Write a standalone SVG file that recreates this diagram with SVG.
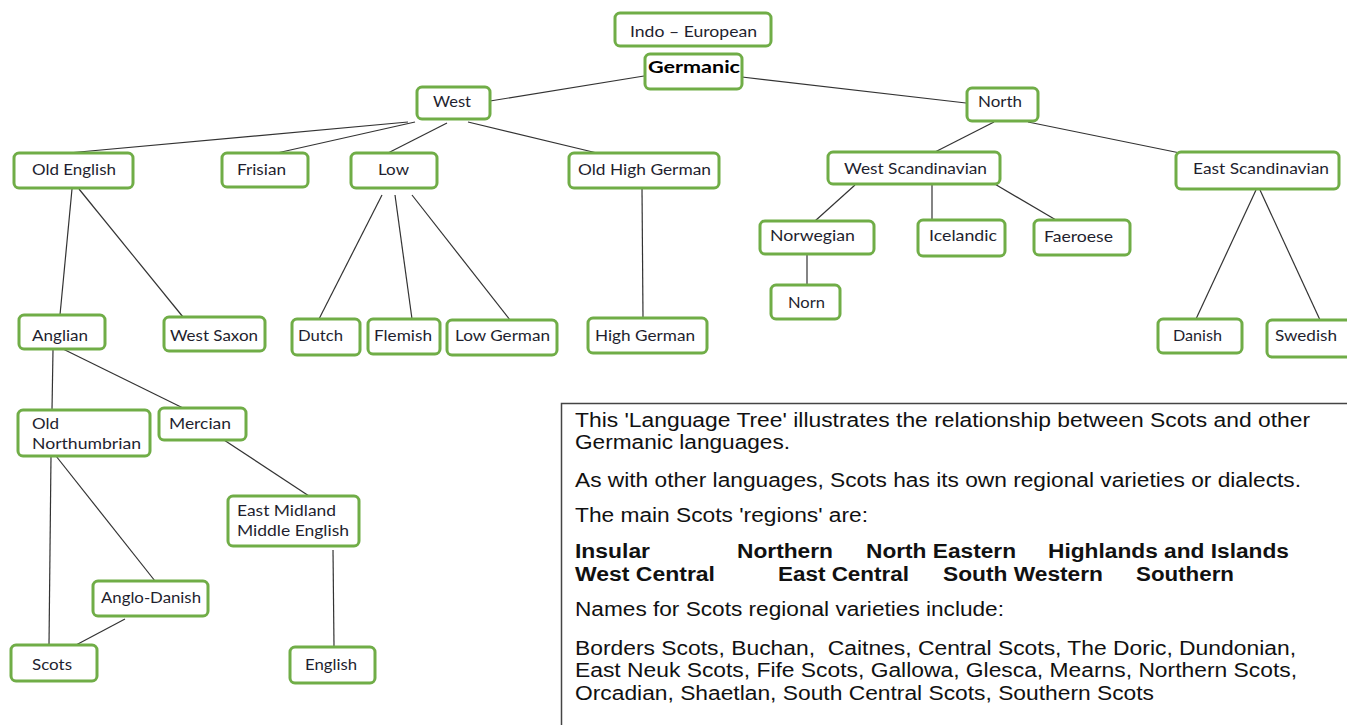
<svg xmlns="http://www.w3.org/2000/svg" width="1347" height="725" viewBox="0 0 1347 725">
<style>
.n rect{fill:#fff;stroke:#70ad47;stroke-width:3}
.n text{font-family:Lato,"Open Sans","Liberation Sans",sans-serif;font-size:15px;fill:#1f1f2f}
.c line{stroke:#333;stroke-width:1.2}
.p{font-family:"Liberation Sans",Arial,sans-serif;font-size:20px;fill:#111}
.b{font-weight:bold}
</style>
<rect width="1347" height="725" fill="#fff"/>
<g class="c" id="connectors">
<line x1="644" y1="76" x2="490" y2="101"/>
<line x1="742" y1="77" x2="966" y2="103"/>
<line x1="408" y1="122" x2="68" y2="153"/>
<line x1="415" y1="122" x2="277" y2="153"/>
<line x1="447" y1="123" x2="388" y2="153"/>
<line x1="468" y1="122" x2="597" y2="153"/>
<line x1="994" y1="122" x2="935" y2="152"/>
<line x1="1028" y1="122" x2="1180" y2="153"/>
<line x1="72" y1="189" x2="60" y2="315"/>
<line x1="79" y1="189" x2="183" y2="317"/>
<line x1="382" y1="195" x2="319" y2="319"/>
<line x1="395" y1="195" x2="412" y2="319"/>
<line x1="412" y1="195" x2="510" y2="320"/>
<line x1="642" y1="188" x2="643" y2="318"/>
<line x1="855" y1="185" x2="815" y2="221"/>
<line x1="932" y1="185" x2="932" y2="220"/>
<line x1="993" y1="183" x2="1056" y2="220"/>
<line x1="807" y1="255" x2="807" y2="285"/>
<line x1="1256" y1="190" x2="1196" y2="319"/>
<line x1="1260" y1="190" x2="1320" y2="320"/>
<line x1="53" y1="350" x2="52" y2="410"/>
<line x1="63" y1="349" x2="183" y2="408"/>
<line x1="224" y1="440" x2="309" y2="496"/>
<line x1="51" y1="456" x2="49" y2="645"/>
<line x1="56" y1="456" x2="155" y2="581"/>
<line x1="125" y1="619" x2="76" y2="645"/>
<line x1="333" y1="550" x2="334" y2="647"/>
</g>
<g class="n" id="indo-european"><rect x="615" y="13" width="156" height="33" rx="5"/><text x="630" y="37" textLength="127" lengthAdjust="spacingAndGlyphs">Indo – European</text></g>
<g class="n" id="germanic"><rect x="645" y="54" width="97" height="35" rx="5"/><text x="648" y="73" style="font-weight:bold;font-size:17px;fill:#000" textLength="92" lengthAdjust="spacingAndGlyphs">Germanic</text></g>
<g class="n" id="west"><rect x="417" y="87" width="73" height="32" rx="5"/><text x="433" y="107" textLength="38" lengthAdjust="spacingAndGlyphs">West</text></g>
<g class="n" id="north"><rect x="967" y="88" width="71" height="33" rx="5"/><text x="978" y="107" textLength="44" lengthAdjust="spacingAndGlyphs">North</text></g>
<g class="n" id="old-english"><rect x="14" y="153" width="119" height="35" rx="5"/><text x="32" y="175" textLength="84" lengthAdjust="spacingAndGlyphs">Old English</text></g>
<g class="n" id="frisian"><rect x="222" y="153" width="86" height="34" rx="5"/><text x="237" y="175" textLength="49" lengthAdjust="spacingAndGlyphs">Frisian</text></g>
<g class="n" id="low"><rect x="351" y="153" width="86" height="35" rx="5"/><text x="378" y="175" textLength="31" lengthAdjust="spacingAndGlyphs">Low</text></g>
<g class="n" id="old-high-german"><rect x="569" y="153" width="150" height="35" rx="5"/><text x="578" y="175" textLength="133" lengthAdjust="spacingAndGlyphs">Old High German</text></g>
<g class="n" id="west-scandinavian"><rect x="828" y="152" width="172" height="32" rx="5"/><text x="844" y="174" textLength="143" lengthAdjust="spacingAndGlyphs">West Scandinavian</text></g>
<g class="n" id="east-scandinavian"><rect x="1176" y="152" width="163" height="37" rx="5"/><text x="1193" y="174" textLength="136" lengthAdjust="spacingAndGlyphs">East Scandinavian</text></g>
<g class="n" id="norwegian"><rect x="760" y="221" width="114" height="33" rx="5"/><text x="770" y="241" textLength="85" lengthAdjust="spacingAndGlyphs">Norwegian</text></g>
<g class="n" id="icelandic"><rect x="918" y="220" width="87" height="36" rx="5"/><text x="929" y="241" textLength="68" lengthAdjust="spacingAndGlyphs">Icelandic</text></g>
<g class="n" id="faeroese"><rect x="1034" y="220" width="96" height="35" rx="5"/><text x="1044" y="242" textLength="69" lengthAdjust="spacingAndGlyphs">Faeroese</text></g>
<g class="n" id="norn"><rect x="771" y="285" width="69" height="34" rx="5"/><text x="788" y="308" textLength="37" lengthAdjust="spacingAndGlyphs">Norn</text></g>
<g class="n" id="anglian"><rect x="19" y="315" width="86" height="34" rx="5"/><text x="32" y="341" textLength="56" lengthAdjust="spacingAndGlyphs">Anglian</text></g>
<g class="n" id="west-saxon"><rect x="164" y="317" width="101" height="34" rx="5"/><text x="170" y="341" textLength="88" lengthAdjust="spacingAndGlyphs">West Saxon</text></g>
<g class="n" id="dutch"><rect x="292" y="319" width="68" height="36" rx="5"/><text x="298" y="341" textLength="45" lengthAdjust="spacingAndGlyphs">Dutch</text></g>
<g class="n" id="flemish"><rect x="368" y="319" width="72" height="35" rx="5"/><text x="374" y="341" textLength="58" lengthAdjust="spacingAndGlyphs">Flemish</text></g>
<g class="n" id="low-german"><rect x="447" y="320" width="110" height="35" rx="5"/><text x="455" y="341" textLength="95" lengthAdjust="spacingAndGlyphs">Low German</text></g>
<g class="n" id="high-german"><rect x="588" y="318" width="119" height="35" rx="5"/><text x="595" y="341" textLength="100" lengthAdjust="spacingAndGlyphs">High German</text></g>
<g class="n" id="danish"><rect x="1158" y="319" width="84" height="34" rx="5"/><text x="1173" y="341" textLength="49" lengthAdjust="spacingAndGlyphs">Danish</text></g>
<g class="n" id="swedish"><rect x="1267" y="320" width="84" height="37" rx="5"/><text x="1275" y="341" textLength="62" lengthAdjust="spacingAndGlyphs">Swedish</text></g>
<g class="n" id="old-northumbrian"><rect x="18" y="410" width="132" height="46" rx="5"/><text x="32" y="429" textLength="27" lengthAdjust="spacingAndGlyphs">Old</text><text x="32" y="449" textLength="109" lengthAdjust="spacingAndGlyphs">Northumbrian</text></g>
<g class="n" id="mercian"><rect x="159" y="408" width="87" height="32" rx="5"/><text x="169" y="429" textLength="62" lengthAdjust="spacingAndGlyphs">Mercian</text></g>
<g class="n" id="east-midland-middle-english"><rect x="228" y="496" width="131" height="50" rx="5"/><text x="237" y="516" textLength="99" lengthAdjust="spacingAndGlyphs">East Midland</text><text x="237" y="536" textLength="112" lengthAdjust="spacingAndGlyphs">Middle English</text></g>
<g class="n" id="anglo-danish"><rect x="93" y="581" width="115" height="35" rx="5"/><text x="101" y="603" textLength="100" lengthAdjust="spacingAndGlyphs">Anglo-Danish</text></g>
<g class="n" id="scots"><rect x="11" y="645" width="86" height="36" rx="5"/><text x="32" y="670" textLength="40" lengthAdjust="spacingAndGlyphs">Scots</text></g>
<g class="n" id="english"><rect x="290" y="647" width="85" height="36" rx="5"/><text x="305" y="670" textLength="52" lengthAdjust="spacingAndGlyphs">English</text></g>
<g id="info">
<rect x="561.5" y="403.5" width="800" height="340" fill="#fff" stroke="#444" stroke-width="1.5"/>
<text class="p" x="575" y="427" textLength="735" lengthAdjust="spacingAndGlyphs">This 'Language Tree' illustrates the relationship between Scots and other</text>
<text class="p" x="575" y="449" textLength="215" lengthAdjust="spacingAndGlyphs">Germanic languages.</text>
<text class="p" x="575" y="487" textLength="726" lengthAdjust="spacingAndGlyphs">As with other languages, Scots has its own regional varieties or dialects.</text>
<text class="p" x="575" y="522" textLength="293" lengthAdjust="spacingAndGlyphs">The main Scots 'regions' are:</text>
<text class="p b" x="575" y="558" textLength="75" lengthAdjust="spacingAndGlyphs">Insular</text>
<text class="p b" x="737" y="558" textLength="96" lengthAdjust="spacingAndGlyphs">Northern</text>
<text class="p b" x="866" y="558" textLength="150" lengthAdjust="spacingAndGlyphs">North Eastern</text>
<text class="p b" x="1048" y="558" textLength="241" lengthAdjust="spacingAndGlyphs">Highlands and Islands</text>
<text class="p b" x="575" y="581" textLength="140" lengthAdjust="spacingAndGlyphs">West Central</text>
<text class="p b" x="778" y="581" textLength="131" lengthAdjust="spacingAndGlyphs">East Central</text>
<text class="p b" x="943" y="581" textLength="160" lengthAdjust="spacingAndGlyphs">South Western</text>
<text class="p b" x="1136" y="581" textLength="98" lengthAdjust="spacingAndGlyphs">Southern</text>
<text class="p" x="575" y="616" textLength="429" lengthAdjust="spacingAndGlyphs">Names for Scots regional varieties include:</text>
<text class="p" x="575" y="655" textLength="721" lengthAdjust="spacingAndGlyphs" xml:space="preserve">Borders Scots, Buchan,  Caitnes, Central Scots, The Doric, Dundonian,</text>
<text class="p" x="575" y="677" textLength="722" lengthAdjust="spacingAndGlyphs">East Neuk Scots, Fife Scots, Gallowa, Glesca, Mearns, Northern Scots,</text>
<text class="p" x="575" y="700" textLength="579" lengthAdjust="spacingAndGlyphs">Orcadian, Shaetlan, South Central Scots, Southern Scots</text>
</g>
</svg>
